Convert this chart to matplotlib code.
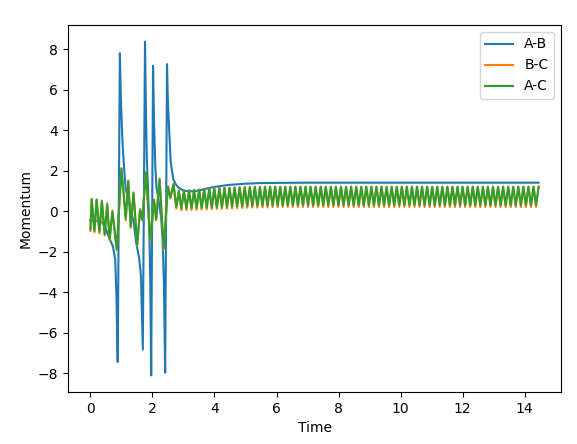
import numpy as np
import matplotlib
matplotlib.use("Agg")
import matplotlib.pyplot as plt
from matplotlib.ticker import MultipleLocator

# ---- A-B: spikes then smooth settle ----
ab_t = [0.00, 0.20, 0.39, 0.48, 0.55, 0.66, 0.73, 0.80, 0.84, 0.88, 0.95, 0.98, 1.03, 1.09, 1.14,
        1.22, 1.30, 1.40, 1.47, 1.57, 1.63, 1.69, 1.76, 1.79, 1.82, 1.86, 1.90, 1.93, 1.96, 2.02,
        2.05, 2.09, 2.13, 2.20, 2.28, 2.33, 2.37, 2.41, 2.47, 2.50, 2.54, 2.59, 2.67, 2.75, 2.85,
        2.97, 3.08, 3.29, 3.50, 3.72, 4.00, 4.47, 5.00, 5.50, 6.00, 7.00, 9.00, 12.00, 14.45]
ab_v = [-0.45, -0.48, -0.56, -0.80, -1.10, -1.50, -1.75, -2.40, -4.20, -7.44, 7.80, 5.67, 3.54, 2.06, 1.08,
        0.60, 0.10, -0.60, -1.50, -2.30, -3.20, -6.83, 8.37, 5.00, 2.50, 1.00, -1.00, -3.50, -8.10, 7.18,
        4.50, 2.30, 1.20, 0.50, -0.30, -1.50, -3.50, -7.97, 7.26, 5.30, 4.00, 2.40, 1.60, 1.33, 1.15,
        1.05, 1.00, 0.98, 1.02, 1.11, 1.20, 1.30, 1.36, 1.39, 1.40, 1.41, 1.41, 1.41, 1.41]

# ---- B-C / A-C: transient extrema (times shared) ----
early_t = [0.00, 0.04, 0.13, 0.20, 0.29, 0.37, 0.46, 0.54, 0.62, 0.71, 0.85, 1.00, 1.14, 1.22,
           1.30, 1.39, 1.51, 1.60, 1.67, 1.79, 1.93, 2.05, 2.12, 2.23, 2.36, 2.50, 2.58, 2.68]
bc_early = [-0.97, 0.62, -1.04, 0.59, -1.09, 0.53, -1.20, 0.40, -1.45, 0.03, -1.93, 2.13, -0.45, 1.52,
            -0.82, 0.93, -1.70, 0.12, -0.45, 1.93, -1.48, 0.58, -0.45, 1.62, -1.88, 1.23, 0.62, 1.36]
ac_early = [-0.90, 0.59, -0.97, 0.56, -1.02, 0.50, -1.13, 0.34, -1.38, -0.02, -1.87, 2.10, -0.35, 1.49,
            -0.75, 0.90, -1.65, 0.05, -0.39, 1.90, -1.42, 0.55, -0.39, 1.57, -1.82, 1.20, 0.70, 1.33]

# ---- steady oscillation: 72 troughs / 72 peaks between t=2.77 and t=14.45 ----
late_start, late_end = 2.77, 14.45
ac_troughs = [0.22, 0.14, 0.14, 0.15, 0.16, 0.17, 0.18, 0.19, 0.20, 0.21, 0.22, 0.23,
              0.24, 0.25, 0.26, 0.27, 0.27, 0.28, 0.28, 0.29, 0.29, 0.30, 0.30, 0.30,
              0.30, 0.30, 0.30, 0.30, 0.30, 0.30, 0.30, 0.30, 0.30, 0.30, 0.30, 0.30,
              0.30, 0.30, 0.30, 0.30, 0.30, 0.30, 0.30, 0.30, 0.30, 0.30, 0.30, 0.30,
              0.30, 0.30, 0.30, 0.30, 0.30, 0.30, 0.30, 0.30, 0.30, 0.30, 0.30, 0.30,
              0.30, 0.30, 0.30, 0.30, 0.30, 0.30, 0.30, 0.30, 0.30, 0.30, 0.30, 0.30]
ac_peaks = [1.00, 1.00, 1.02, 1.04, 1.06, 1.08, 1.10, 1.12, 1.13, 1.14, 1.15, 1.16,
            1.17, 1.18, 1.18, 1.19, 1.19, 1.20, 1.20, 1.20, 1.20, 1.20, 1.20, 1.20,
            1.20, 1.20, 1.20, 1.20, 1.20, 1.20, 1.20, 1.20, 1.20, 1.20, 1.20, 1.20,
            1.20, 1.20, 1.20, 1.20, 1.20, 1.20, 1.20, 1.20, 1.20, 1.20, 1.20, 1.20,
            1.20, 1.20, 1.20, 1.20, 1.20, 1.20, 1.20, 1.20, 1.20, 1.20, 1.20, 1.20,
            1.20, 1.20, 1.20, 1.20, 1.20, 1.20, 1.20, 1.20, 1.20, 1.20, 1.20, 1.20]
bc_troughs = [0.13, 0.05, 0.05, 0.06, 0.07, 0.08, 0.09, 0.10, 0.11, 0.12, 0.13, 0.14,
              0.15, 0.16, 0.17, 0.18, 0.18, 0.19, 0.19, 0.20, 0.20, 0.21, 0.21, 0.21,
              0.21, 0.21, 0.21, 0.21, 0.21, 0.21, 0.21, 0.21, 0.21, 0.21, 0.21, 0.21,
              0.21, 0.21, 0.21, 0.21, 0.21, 0.21, 0.21, 0.21, 0.21, 0.21, 0.21, 0.21,
              0.21, 0.21, 0.21, 0.21, 0.21, 0.21, 0.21, 0.21, 0.21, 0.21, 0.21, 0.21,
              0.21, 0.21, 0.21, 0.21, 0.21, 0.21, 0.21, 0.21, 0.21, 0.21, 0.21, 0.21]
bc_peaks = [1.02, 1.02, 1.04, 1.06, 1.08, 1.10, 1.12, 1.14, 1.15, 1.16, 1.17, 1.18,
            1.19, 1.20, 1.20, 1.21, 1.21, 1.22, 1.22, 1.22, 1.22, 1.22, 1.22, 1.22,
            1.22, 1.22, 1.22, 1.22, 1.22, 1.22, 1.22, 1.22, 1.22, 1.22, 1.22, 1.22,
            1.22, 1.22, 1.22, 1.22, 1.22, 1.22, 1.22, 1.22, 1.22, 1.22, 1.22, 1.22,
            1.22, 1.22, 1.22, 1.22, 1.22, 1.22, 1.22, 1.22, 1.22, 1.22, 1.22, 1.22,
            1.22, 1.22, 1.22, 1.22, 1.22, 1.22, 1.22, 1.22, 1.22, 1.22, 1.22, 1.22]

late_t = np.linspace(late_start, late_end, 2 * len(ac_peaks))
ac_late = np.column_stack([ac_troughs, ac_peaks]).ravel()
bc_late = np.column_stack([bc_troughs, bc_peaks]).ravel()

osc_t = np.concatenate([early_t, late_t])
bc_v = np.concatenate([bc_early, bc_late])
ac_v = np.concatenate([ac_early, ac_late])

fig = plt.figure(figsize=(5.77, 4.44), dpi=100)
ax = fig.add_subplot(111)
fig.subplots_adjust(left=68/577, right=561/577, top=1-25/444, bottom=1-392/444)
ax.plot(ab_t, ab_v, label="A-B")
ax.plot(osc_t, bc_v, label="B-C")
ax.plot(osc_t, ac_v, label="A-C")
ax.yaxis.set_major_locator(MultipleLocator(2))
ax.set_xlabel("Time")
ax.set_ylabel("Momentum")
ax.legend(loc="upper right")
fig.savefig("out.png", dpi=100)
